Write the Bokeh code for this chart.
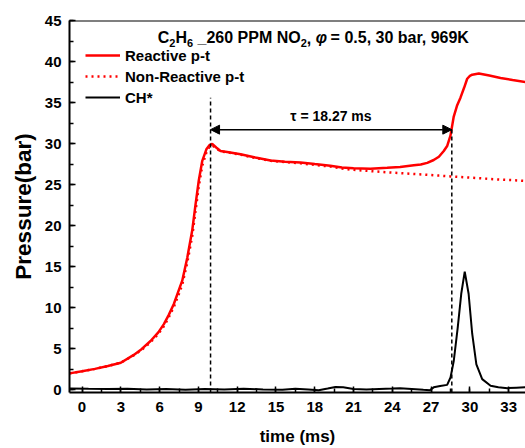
from bokeh.plotting import figure
from bokeh.models import (Range1d, SingleIntervalTicker, Span, Arrow, NormalHead,
                          Legend, LegendItem, Title, ColumnDataSource)
from bokeh.core.properties import value
from bokeh.embed import file_html
from bokeh.resources import INLINE

FONT = "Liberation Sans"

# ---------------- data ----------------
t_react = [-0.97, 0.0, 1.0, 2.0, 3.0, 4.0, 4.6, 5.3, 5.9, 6.33, 6.7, 7.1, 7.45, 7.75,
           8.14, 8.52, 8.78, 9.03, 9.3, 9.63, 9.85, 10.07, 10.4, 10.71, 11.35, 12.26,
           13.4, 14.58, 15.7, 16.9, 18.0, 19.2, 20.1, 21.0, 22.3, 23.6, 24.6, 25.66,
           26.2, 26.7, 27.2, 27.6, 27.98, 28.24, 28.5, 28.75, 29.0, 29.27, 29.55,
           29.79, 30.0, 30.18, 30.69, 31.5, 32.37, 33.3, 34.3]
p_react = [2.0, 2.25, 2.55, 2.9, 3.3, 4.25, 4.95, 5.95, 7.0, 8.0, 9.1, 10.45, 12.0, 13.3,
           16.1, 19.4, 22.6, 25.5, 27.9, 29.35, 29.8, 29.95, 29.5, 29.1, 28.95, 28.7,
           28.3, 27.95, 27.8, 27.7, 27.5, 27.3, 27.1, 27.0, 26.95, 27.05, 27.15, 27.35,
           27.45, 27.65, 28.0, 28.4, 29.1, 29.7, 31.0, 33.3, 34.6, 35.6, 36.8,
           37.9, 38.25, 38.4, 38.55, 38.3, 38.0, 37.75, 37.5]

t_nonreact = [-0.97, 0.0, 1.0, 2.0, 3.0, 4.0, 4.6, 5.3, 5.9, 6.33, 6.7, 7.1, 7.45, 7.75,
              8.14, 8.52, 8.78, 9.03, 9.3, 9.63, 9.85, 10.07, 10.4, 10.71, 11.35, 12.26,
              13.4, 14.58, 15.7, 16.9, 18.0, 19.2, 20.1, 21.0, 22.3, 23.6, 24.6, 25.66,
              26.7, 27.6, 28.5, 29.5, 30.5, 31.5, 32.5, 33.3, 34.3]
p_nonreact = [2.0, 2.25, 2.55, 2.9, 3.3, 4.2, 4.85, 5.8, 6.8, 7.75, 8.8, 10.1, 11.5, 12.8,
              15.5, 18.7, 21.8, 24.8, 27.3, 29.0, 29.6, 29.8, 29.4, 29.05, 28.9, 28.65,
              28.25, 27.9, 27.75, 27.6, 27.4, 27.2, 26.95, 26.8, 26.65, 26.5, 26.4, 26.3,
              26.2, 26.1, 26.0, 25.9, 25.8, 25.7, 25.6, 25.55, 25.45]

t_ch = [-0.97, 0.5, 2.0, 3.5, 5.0, 6.5, 8.0, 9.5, 11.0, 12.5, 14.0, 15.5, 16.5, 17.5,
        18.3, 19.0, 19.6, 20.2, 21.0, 22.0, 23.0, 24.0, 24.6, 25.5, 26.4, 26.9, 27.2,
        27.7, 28.24, 28.5, 28.75, 29.06, 29.33, 29.6, 29.9, 30.18, 30.5, 30.95, 31.6,
        32.2, 32.9, 33.6, 34.3]
ch_signal = [0.15, 0.12, 0.1, 0.12, 0.05, 0.1, 0.0, 0.1, 0.05, 0.12, 0.05, 0.0, 0.12, 0.05,
             -0.05, 0.15, 0.35, 0.3, 0.1, 0.05, 0.1, 0.15, 0.2, 0.1, 0.0, -0.05, 0.3,
             0.45, 0.6, 1.5, 3.5, 7.6, 11.7, 14.4, 11.7, 6.8, 3.1, 1.3, 0.5,
             0.3, 0.2, 0.25, 0.3]

marker_times = [9.94, 28.6]      # end of compression / ignition (ms)
marker_tops = [35.6, 32.0]
tau_level = 31.7
tau_label = "τ = 18.27 ms"

series_names = ["Reactive p-t", "Non-Reactive p-t", "CH*"]
x_label = "time (ms)"
y_label = "Pressure(bar)"

# title pieces (subscripts drawn smaller and lower)
title_pieces = ["C", "2", "H", "6", "_260 PPM NO", "2", ",", "φ", "= 0.5, 30 bar, 969K"]
title_is_sub = [False, True, False, True, False, True, False, False, False]
title_offsets = [0, 11.55, 17.65, 29.2, 39.75, 142.95, 149.05, 157.95, 172.8]

# ---------------- figure ----------------
X0, X1 = -0.97, 34.3
Y0, Y1 = -0.33, 45.0

p = figure(width=525, height=448, output_backend="svg", toolbar_location=None,
           x_range=Range1d(X0, X1), y_range=Range1d(Y0, Y1),
           min_border_left=69, min_border_right=0, min_border_top=20,
           min_border_bottom=56)
p.outline_line_color = None
p.grid.visible = False
p.background_fill_color = "white"
p.border_fill_color = "white"

for ax in (p.xaxis[0], p.yaxis[0]):
    ax.axis_line_width = 2
    ax.axis_line_color = "black"
    ax.major_tick_in = 6
    ax.major_tick_out = 0
    ax.minor_tick_in = 4
    ax.minor_tick_out = 0
    ax.major_tick_line_width = 1.5
    ax.minor_tick_line_width = 1.5
    ax.major_tick_line_color = "black"
    ax.minor_tick_line_color = "black"
    ax.major_label_text_font = FONT
    ax.major_label_text_font_style = "bold"
    ax.major_label_text_font_size = "15px"
    ax.major_label_text_color = "black"

p.xaxis.ticker = SingleIntervalTicker(interval=3, num_minor_ticks=2)
p.yaxis.ticker = SingleIntervalTicker(interval=5, num_minor_ticks=2)
p.xaxis.major_label_standoff = 9
p.yaxis.major_label_standoff = 8

p.xaxis.axis_label = x_label
p.xaxis.axis_label_text_font = FONT
p.xaxis.axis_label_text_font_style = "bold"
p.xaxis.axis_label_text_font_size = "17px"
p.xaxis.axis_label_text_color = "black"
p.xaxis.axis_label_standoff = 12

ytitle = Title(text=y_label, align="center", offset=-16, standoff=12,
               text_font=FONT, text_font_style="bold", text_font_size="22.5px",
               text_color="black")
p.add_layout(ytitle, "left")

# top border line
p.add_layout(Span(location=Y1, dimension="width", line_color="black", line_width=2))

# ---------------- curves ----------------
r_non = p.line(t_nonreact, p_nonreact, line_color="#ff0000", line_width=2.5,
               line_dash="2 4")
r_react = p.line(t_react, p_react, line_color="#ff0000", line_width=2.5)
r_ch = p.line(t_ch, ch_signal, line_color="black", line_width=2)

# marker lines
p.segment(x0=marker_times, y0=[Y0, Y0], x1=marker_times, y1=marker_tops,
          line_color="black", line_width=1.5, line_dash="4 3")

# tau arrow
p.add_layout(Arrow(x_start=marker_times[0], y_start=tau_level,
                   x_end=marker_times[1], y_end=tau_level,
                   line_color="black", line_width=1.5,
                   start=NormalHead(size=9, fill_color="black", line_color="black"),
                   end=NormalHead(size=9, fill_color="black", line_color="black")))

p.text(x=[(marker_times[0] + marker_times[1]) / 2 - 0.02], y=[33.4], text=[tau_label],
       text_align="center", text_baseline="alphabetic",
       text_font=value(FONT), text_font_size="14px", text_font_style="bold",
       text_color="black")

# title
t_anchor = 5.86
tsrc = ColumnDataSource(dict(
    x=[t_anchor] * len(title_pieces),
    y=[42.23 if s else 42.89 for s in title_is_sub],
    text=title_pieces,
    xo=title_offsets,
    fs=["11px" if s else "16px" for s in title_is_sub],
    st=["bold italic" if t == "φ" else "bold" for t in title_pieces],
))
p.text(x="x", y="y", text="text", x_offset="xo", text_font_size="fs",
       text_font_style="st", source=tsrc, text_align="left",
       text_baseline="alphabetic", text_font=value(FONT), text_color="black")

# legend
legend = Legend(items=[LegendItem(label=series_names[0], renderers=[r_react]),
                       LegendItem(label=series_names[1], renderers=[r_non]),
                       LegendItem(label=series_names[2], renderers=[r_ch])],
                location=(16, 285), orientation="vertical",
                glyph_width=35, glyph_height=20, label_height=20, spacing=1,
                label_standoff=5, padding=0, margin=0,
                border_line_color=None, background_fill_alpha=0,
                label_text_font=FONT, label_text_font_style="bold",
                label_text_font_size="15px", label_text_color="black")
p.add_layout(legend)

open("out.html", "w").write(file_html(p, INLINE))
